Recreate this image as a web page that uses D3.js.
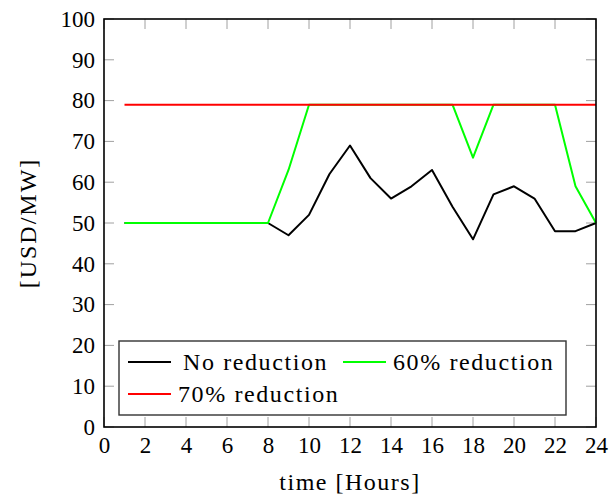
<!DOCTYPE html>
<html lang="en">
<head>
    <meta charset="UTF-8">
    <title>Price per hour</title>
    <script src="https://d3js.org/d3.v7.min.js"></script>
    <style>
        body { margin: 0; background: #fff; }
        svg text { font-family: "Liberation Serif", serif !important; fill: #000; }
        .tick-mark { stroke: #a0a0a0; stroke-width: 1; }
        .series { fill: none; stroke-width: 2; stroke-linejoin: round; }
    </style>
</head>
<body>
    <script>
        // Data
        var hours = d3.range(1, 25);
        var noReduction = [50, 50, 50, 50, 50, 50, 50, 50, 47, 52, 62, 69, 61, 56, 59, 63, 54, 46, 57, 59, 56, 48, 48, 50];
        var reduction60 = [50, 50, 50, 50, 50, 50, 50, 50, 63, 79, 79, 79, 79, 79, 79, 79, 79, 66, 79, 79, 79, 79, 59, 50];
        var reduction70 = [79, 79, 79, 79, 79, 79, 79, 79, 79, 79, 79, 79, 79, 79, 79, 79, 79, 79, 79, 79, 79, 79, 79, 79];
        var seriesNames = ["No reduction", "60% reduction", "70% reduction"];
        var seriesColors = ["#000000", "#00ff00", "#ff0000"];
        var xTicks = d3.range(0, 25, 2);
        var yTicks = d3.range(0, 101, 10);

        var W = 610, H = 497;
        var margin = {top: 19, right: 14, bottom: 70, left: 104};
        var width = W - margin.left - margin.right,
            height = H - margin.top - margin.bottom;
        var tickLen = 10;
        var serif = "'Liberation Serif', serif";

        var svg = d3.select("body").append("svg")
            .attr("width", W)
            .attr("height", H);
        var g = svg.append("g")
            .attr("transform", "translate(" + margin.left + "," + margin.top + ")");

        var x = d3.scaleLinear().domain([0, 24]).range([0, width]);
        var y = d3.scaleLinear().domain([0, 100]).range([height, 0]);

        // inside ticks on all four sides
        var ticks = g.append("g");
        xTicks.forEach(function(t) {
            ticks.append("line").attr("class", "tick-mark")
                .attr("x1", x(t)).attr("x2", x(t)).attr("y1", height).attr("y2", height - tickLen);
            ticks.append("line").attr("class", "tick-mark")
                .attr("x1", x(t)).attr("x2", x(t)).attr("y1", 0).attr("y2", tickLen);
        });
        yTicks.forEach(function(t) {
            ticks.append("line").attr("class", "tick-mark")
                .attr("x1", 0).attr("x2", tickLen).attr("y1", y(t)).attr("y2", y(t));
            ticks.append("line").attr("class", "tick-mark")
                .attr("x1", width).attr("x2", width - tickLen).attr("y1", y(t)).attr("y2", y(t));
        });

        // tick labels via axes, without their own lines
        var xAxis = g.append("g")
            .attr("transform", "translate(0," + height + ")")
            .call(d3.axisBottom(x).tickValues(xTicks).tickSize(0).tickPadding(8));
        var yAxis = g.append("g")
            .call(d3.axisLeft(y).tickValues(yTicks).tickSize(0).tickPadding(9));
        [xAxis, yAxis].forEach(function(a) {
            a.attr("font-family", serif).attr("font-size", 23);
            a.select(".domain").remove();
            a.selectAll("text").style("font-family", serif).style("font-size", "23px");
        });
        xAxis.selectAll("text").attr("dy", "0.8em");

        // lines
        var line = d3.line()
            .x(function(d, i) { return x(hours[i]); })
            .y(function(d) { return y(d); });
        [noReduction, reduction60, reduction70].forEach(function(s, i) {
            g.append("path")
                .attr("class", "series")
                .attr("d", line(s))
                .attr("stroke", seriesColors[i]);
        });

        // frame
        g.append("rect")
            .attr("width", width).attr("height", height)
            .attr("fill", "none").attr("stroke", "#000").attr("stroke-width", 1.6);

        // legend
        var legend = g.append("g").attr("transform", "translate(" + (119 - margin.left) + "," + (341 - margin.top) + ")");
        legend.append("rect")
            .attr("width", 447).attr("height", 74)
            .attr("fill", "#fff").attr("stroke", "#333").attr("stroke-width", 1.4);
        var legendPos = [[9, 21], [224, 21], [9, 53]];
        seriesNames.forEach(function(name, i) {
            var item = legend.append("g")
                .attr("transform", "translate(" + legendPos[i][0] + "," + legendPos[i][1] + ")");
            item.append("line")
                .attr("x1", 0).attr("x2", 43)
                .attr("stroke", seriesColors[i]).attr("stroke-width", 2);
            item.append("text")
                .attr("x", i === 0 ? 55 : 50)
                .attr("dy", "0.32em")
                .style("font-family", serif)
                .style("font-size", "24px")
                .style("letter-spacing", "1.6px")
                .text(name);
        });

        // axis titles
        svg.append("text")
            .attr("x", margin.left + width / 2)
            .attr("y", 490)
            .attr("text-anchor", "middle")
            .style("font-family", serif)
            .style("font-size", "24px")
            .style("letter-spacing", "1.5px")
            .text("time [Hours]");
        svg.append("text")
            .attr("transform", "translate(36," + (margin.top + height / 2) + ") rotate(-90)")
            .attr("text-anchor", "middle")
            .style("font-family", serif)
            .style("font-size", "24px")
            .style("letter-spacing", "2px")
            .text("[USD/MW]");
    </script>
</body>
</html>
